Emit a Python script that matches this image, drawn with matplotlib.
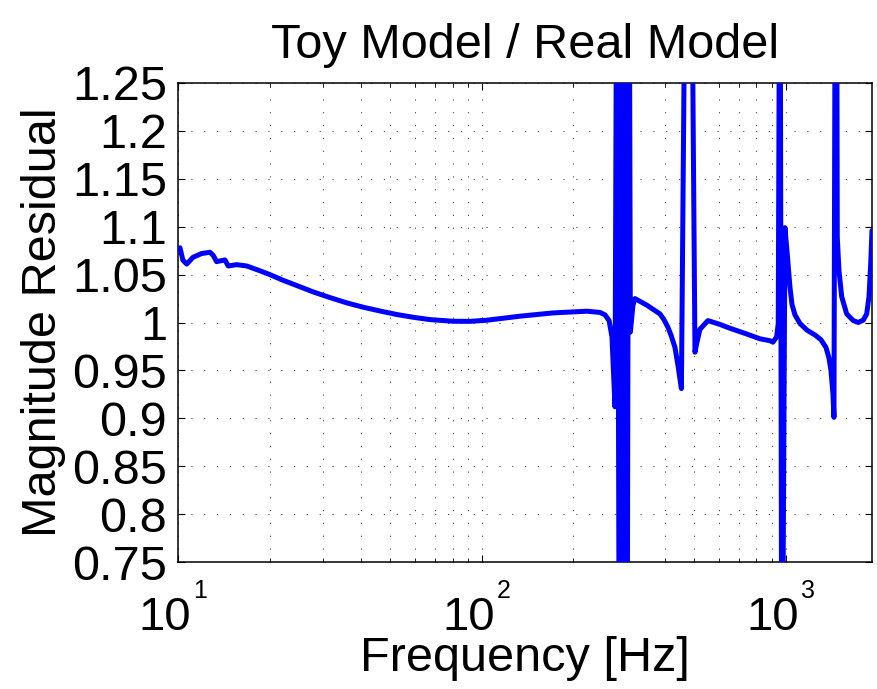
import matplotlib
matplotlib.use('Agg')
import matplotlib.pyplot as plt
from matplotlib.ticker import FixedLocator, NullFormatter

# ---------------- data ----------------
freq_hz = [10.0, 10.15, 10.38, 10.68, 11.2, 11.96, 12.74, 13.06, 13.4, 13.9,
           14.27, 14.63, 15.6, 16.83, 18.6, 20.05, 22.2, 24.63, 27.8, 31.62,
           35.9, 40.61, 46.2, 52.53, 59.3, 67.45, 80.3, 91.3, 103.9, 133.4,
           171.2, 221.5, 244.5, 253.9, 261.9, 267.7,
           273.9, 278.1, 283.4, 286.6, 291.0, 295.4, 299.9, 304.5, 307.7, 313.8,
           318.6, 349.0, 385.0, 396.9, 409.0, 418.5, 431.4, 441.4, 453.0,
           469.0, 487.0, 502.0, 508.5, 521.3, 553.9, 606.6, 654.3, 742.6, 821.3,
           885.6, 906.1, 931.9, 943.3, 955.6, 970.1, 992.4, 1007.6, 1030.8,
           1046.5, 1070.6, 1112.0, 1172.6, 1245.8, 1303.7, 1354.0, 1385.1,
           1406.3, 1427.8, 1438.6, 1455.2, 1466.2, 1475.1, 1494.4, 1525.3,
           1584.2, 1665.6, 1729.8, 1796.6, 1843.4, 1875.8, 1900.1, 1919.0]
residual = [1.077, 1.078, 1.065, 1.061, 1.068, 1.072, 1.0733, 1.070, 1.0635, 1.0646,
            1.0653, 1.059, 1.0604, 1.059, 1.054, 1.050, 1.044, 1.0385, 1.032, 1.026,
            1.0205, 1.016, 1.012, 1.0083, 1.0055, 1.003, 1.0013, 1.0012, 1.0024, 1.0066,
            1.010, 1.0118, 1.0105, 1.008, 1.002, 0.985,
            0.912, 1.5, 0.5, 1.5, 0.5, 1.5, 0.5, 1.5, 0.99, 1.018,
            1.025, 1.018, 1.009, 1.003, 0.995, 0.987, 0.974, 0.955, 0.931,
            1.5, 1.5, 0.969, 0.978, 0.993, 1.002, 0.998, 0.994, 0.988, 0.983,
            0.981, 0.9795, 0.985, 0.999, 1.5, 0.5, 1.099, 1.075, 1.037,
            1.019, 1.008, 0.999, 0.992, 0.987, 0.982, 0.974, 0.963,
            0.950, 0.925, 0.901, 1.5, 1.5, 1.089, 1.054, 1.027,
            1.009, 1.002, 1.0, 1.0025, 1.009, 1.027, 1.061, 1.096]

y_ticks = [0.75, 0.8, 0.85, 0.9, 0.95, 1.0, 1.05, 1.1, 1.15, 1.2, 1.25]
y_tick_labels = ['0.75', '0.8', '0.85', '0.9', '0.95', '1', '1.05', '1.1',
                 '1.15', '1.2', '1.25']
x_ticks = [10, 100, 1000]
x_tick_base = ['10', '10', '10']
x_tick_exp = ['1', '2', '3']
x_minor = [m * d for d in (10, 100, 1000) for m in range(2, 10)]

title_text = 'Toy Model / Real Model'
x_label = 'Frequency [Hz]'
y_label = 'Magnitude Residual'

# ---------------- style ----------------
plt.rcParams['font.family'] = ['Liberation Sans', 'DejaVu Sans']

W, H = 878, 689
fig = plt.figure(figsize=(W / 100, H / 100), dpi=100)
ax = fig.add_axes([178 / W, 1 - 562 / H, (872 - 178) / W, (562 - 83) / H])

ax.set_xscale('log')
ax.plot(freq_hz, residual, color='#0000ff', lw=3.6,
        solid_joinstyle='round', solid_capstyle='round', zorder=3)
ax.set_xlim(10, 1919)
ax.set_ylim(0.75, 1.25)

ax.xaxis.set_major_locator(FixedLocator(x_ticks))
ax.xaxis.set_minor_locator(FixedLocator(x_minor))
ax.xaxis.set_minor_formatter(NullFormatter())
ax.set_xticklabels([''] * len(x_ticks))
ax.set_yticks(y_ticks)
ax.set_yticklabels(y_tick_labels)

# log-axis tick labels: large "10" with a small exponent (MATLAB style)
xa = ax.get_xaxis_transform()
for t, base, ex in zip(x_ticks, x_tick_base, x_tick_exp):
    ax.annotate(base, xy=(t, 0), xycoords=xa, xytext=(13, -68),
                textcoords='offset pixels', ha='right', va='baseline',
                fontsize=34, annotation_clip=False)
    ax.annotate(ex, xy=(t, 0), xycoords=xa, xytext=(15, -36),
                textcoords='offset pixels', ha='left', va='baseline',
                fontsize=18, annotation_clip=False)

grid_kw = dict(color='#404040', linestyle=(0, (1.2, 12)), linewidth=0.7)
ax.grid(True, which='major', axis='both', **grid_kw)
ax.grid(True, which='minor', axis='x', **grid_kw)

ax.tick_params(axis='both', which='major', direction='in', length=5, width=0.8,
               top=True, right=True, labelsize=35, colors='black')
ax.tick_params(axis='y', which='major', pad=8)
ax.tick_params(axis='x', which='minor', direction='in', length=3, width=0.6,
               top=True, bottom=True)
for s in ax.spines.values():
    s.set_linewidth(1.1)
    s.set_color('black')

ax.set_title(title_text, fontsize=35, pad=18)
ax.set_ylabel(y_label, fontsize=35, labelpad=4.5)
fig.text((178 + 872) / 2 / W, 1 - 671 / H, x_label, fontsize=35,
         ha='center', va='baseline')

fig.savefig('out.png', dpi=100)
